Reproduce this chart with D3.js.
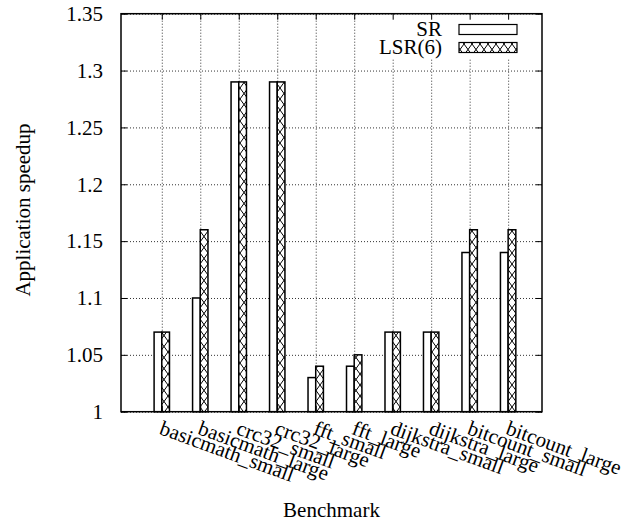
<!DOCTYPE html>
<html>
<head>
<meta charset="utf-8">
<script src="https://cdn.jsdelivr.net/npm/d3@7"></script>
<style>
  body { margin: 0; background: #fff; }
  svg text { font-family: "Liberation Serif", "DejaVu Serif", serif !important; font-size: 21px; fill: #000; }
  .grid line { stroke: #333; stroke-dasharray: 1,2; }
  .grid path { display: none; }
  .axis path, .axis line { stroke: #000; }
</style>
</head>
<body>
<svg width="625" height="523"></svg>
<script>
var benchmarks = ["basicmath_small", "basicmath_large", "crc32_small", "crc32_large",
  "fft_small", "fft_large", "dijkstra_small", "dijkstra_large", "bitcount_small", "bitcount_large"];
var srValues  = [1.07, 1.10, 1.29, 1.29, 1.03, 1.04, 1.07, 1.07, 1.14, 1.14];
var lsrValues = [1.07, 1.16, 1.29, 1.29, 1.04, 1.05, 1.07, 1.07, 1.16, 1.16];
var yTicks = [1, 1.05, 1.1, 1.15, 1.2, 1.25, 1.3, 1.35];
var seriesNames = ["SR", "LSR(6)"];

var svg = d3.select("svg"),
  pLeft = 121, pRight = 542, pTop = 13.7, pBottom = 411.7,
  barW = 0.2;

var x = d3.scaleLinear().domain([-1.06, 9.88]).range([pLeft, pRight]);
var y = d3.scaleLinear().domain([1, 1.35]).range([pBottom, pTop]);

// crosshatch pattern
var defs = svg.append("defs");
var pat = defs.append("pattern")
  .attr("id", "xhatch")
  .attr("patternUnits", "userSpaceOnUse")
  .attr("width", 8).attr("height", 11);
pat.append("rect").attr("width", 8).attr("height", 11).attr("fill", "#fff");
pat.append("path")
  .attr("d", "M0,0 L8,11 M8,0 L0,11")
  .attr("stroke", "#000").attr("stroke-width", 1);

// grid
svg.append("g").attr("class", "grid")
  .attr("transform", "translate(" + pLeft + ",0)")
  .call(d3.axisLeft(y).tickValues(yTicks).tickSize(-(pRight - pLeft)).tickFormat(""));
svg.append("g").attr("class", "grid")
  .attr("transform", "translate(0," + pBottom + ")")
  .call(d3.axisBottom(x).tickValues(d3.range(benchmarks.length)).tickSize(-(pBottom - pTop)).tickFormat(""));

// bars
var idx = d3.range(benchmarks.length);
svg.append("g").selectAll("rect")
  .data(idx).enter().append("rect")
  .attr("x", function(i){ return x(i - barW); })
  .attr("y", function(i){ return y(srValues[i]); })
  .attr("width", function(i){ return x(i) - x(i - barW); })
  .attr("height", function(i){ return pBottom - y(srValues[i]); })
  .attr("fill", "#fff").attr("stroke", "#000").attr("stroke-width", 1.5);
svg.append("g").selectAll("rect")
  .data(idx).enter().append("rect")
  .attr("x", function(i){ return x(i); })
  .attr("y", function(i){ return y(lsrValues[i]); })
  .attr("width", function(i){ return x(i + barW) - x(i); })
  .attr("height", function(i){ return pBottom - y(lsrValues[i]); })
  .attr("fill", "url(#xhatch)").attr("stroke", "#000").attr("stroke-width", 1.5);

// legend background (hides grid behind the key)
svg.append("rect").attr("x", 380).attr("y", pTop + 1).attr("width", pRight - 381).attr("height", 44)
  .attr("fill", "#fff");

// axes (ticks point inward, mirrored)
svg.append("g").attr("class", "axis")
  .attr("transform", "translate(" + pLeft + ",0)")
  .call(d3.axisLeft(y).tickValues(yTicks).tickSize(-6).tickPadding(18)
    .tickFormat(function(d){ return String(+d.toFixed(2)); }));
svg.append("g").attr("class", "axis")
  .attr("transform", "translate(" + pRight + ",0)")
  .call(d3.axisRight(y).tickValues(yTicks).tickSize(-6).tickFormat(""));
var xAxis = svg.append("g").attr("class", "axis")
  .attr("transform", "translate(0," + pBottom + ")")
  .call(d3.axisBottom(x).tickValues(idx).tickSize(-6)
    .tickFormat(function(i){ return benchmarks[i]; }));
xAxis.selectAll("text")
  .attr("text-anchor", "start").attr("dy", null).attr("y", 0)
  .attr("transform", "translate(-4,22) rotate(20)");
svg.append("g").attr("class", "axis")
  .attr("transform", "translate(0," + pTop + ")")
  .call(d3.axisTop(x).tickValues(idx).tickSize(-6).tickFormat(""));
svg.selectAll(".axis path").attr("stroke-width", 0);

// legend
var lg = svg.append("g");
seriesNames.forEach(function(name, k) {
  var cy = 29.5 + k * 18;
  lg.append("text").attr("x", 442).attr("y", cy + 6)
    .attr("text-anchor", "end").text(name);
  lg.append("rect").attr("x", 459).attr("y", cy - 5).attr("width", 58).attr("height", 10)
    .attr("fill", k === 0 ? "#fff" : "url(#xhatch)")
    .attr("stroke", "#000").attr("stroke-width", 1.2);
});

// frame
svg.append("rect").attr("x", pLeft).attr("y", pTop)
  .attr("width", pRight - pLeft).attr("height", pBottom - pTop)
  .attr("fill", "none").attr("stroke", "#000").attr("stroke-width", 1.5);

// axis titles
svg.append("text")
  .attr("transform", "translate(30,210) rotate(-90)")
  .attr("text-anchor", "middle").text("Application speedup");
svg.append("text")
  .attr("x", (pLeft + pRight) / 2).attr("y", 517)
  .attr("text-anchor", "middle").text("Benchmark");
</script>
</body>
</html>
